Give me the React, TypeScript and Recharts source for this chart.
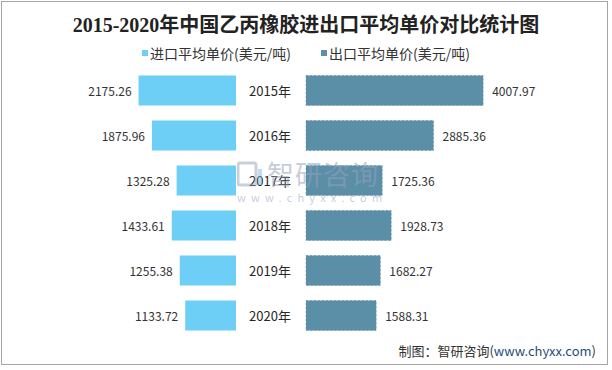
import React from "react";
import { BarChart, Bar, XAxis, YAxis, LabelList } from "recharts";

const years = ["2015年", "2016年", "2017年", "2018年", "2019年", "2020年"];
const importPrice = [2175.26, 1875.96, 1325.28, 1433.61, 1255.38, 1133.72];
const exportPrice = [4007.97, 2885.36, 1725.36, 1928.73, 1682.27, 1588.31];

const data = years.map((year, i) => ({
  year,
  imp: importPrice[i],
  exp: exportPrice[i],
}));

const IMP_COLOR = "#6dcff6";
const EXP_COLOR = "#5b8fa8";
const FONT = '"Microsoft YaHei", "Noto Sans CJK SC", sans-serif';

const LeftLabel = (props: any) => {
  const { x, y, width, height, value } = props;
  const left = Math.min(x, x + width);
  return (
    <text
      x={left - 7}
      y={y + height / 2}
      textAnchor="end"
      dominantBaseline="central"
      fontSize={12}
      fill="#333"
      fontFamily={FONT}
    >
      {value.toFixed(2)}
    </text>
  );
};

const RightLabel = (props: any) => {
  const { x, y, width, height, value } = props;
  const right = Math.max(x, x + width);
  return (
    <text
      x={right + 9}
      y={y + height / 2}
      textAnchor="start"
      dominantBaseline="central"
      fontSize={12}
      fill="#333"
      fontFamily={FONT}
    >
      {value.toFixed(2)}
    </text>
  );
};

const YearTick = (props: any) => {
  const { y, payload } = props;
  return (
    <text
      x={34}
      y={y}
      textAnchor="middle"
      dominantBaseline="central"
      fontSize={13}
      fill="#262626"
      fontFamily={FONT}
    >
      {payload.value}
    </text>
  );
};

const LegendItem = ({ color, text }: { color: string; text: string }) => (
  <span style={{ display: "inline-flex", alignItems: "center", margin: "0 15px" }}>
    <span style={{ width: 6, height: 6, background: color, marginRight: 2 }} />
    <span>{text}</span>
  </span>
);

export default function App() {
  return (
    <div
      style={{
        position: "absolute",
        left: 0,
        top: 0,
        width: 612,
        height: 370,
        background: "#fff",
        fontFamily: FONT,
        overflow: "hidden",
      }}
    >
      <div
        style={{
          position: "absolute",
          left: 1,
          top: 1,
          width: 607,
          height: 364,
          boxSizing: "border-box",
          border: "1px solid #a6a6a6",
        }}
      />
      <div
        style={{
          position: "absolute",
          left: 0,
          top: 12,
          width: 612,
          textAlign: "center",
          fontSize: 20,
          fontWeight: "bold",
          fontFamily: '"Liberation Serif", "Noto Sans CJK SC", serif',
          color: "#222",
          lineHeight: "26px",
        }}
      >
        2015-2020年中国乙丙橡胶进出口平均单价对比统计图
      </div>
      <div
        style={{
          position: "absolute",
          left: 0,
          top: 43,
          width: 612,
          display: "flex",
          justifyContent: "center",
          fontSize: 14,
          color: "#333",
          lineHeight: "20px",
        }}
      >
        <LegendItem color={IMP_COLOR} text="进口平均单价(美元/吨)" />
        <LegendItem color={EXP_COLOR} text="出口平均单价(美元/吨)" />
      </div>

      <div style={{ position: "absolute", left: 0, top: 60 }}>
        <BarChart
          width={236}
          height={285}
          data={data}
          layout="vertical"
          margin={{ top: 7.5, bottom: 7.5, left: 12, right: 0 }}
        >
          <XAxis type="number" domain={[0, 5000]} reversed hide />
          <YAxis type="category" dataKey="year" hide />
          <Bar dataKey="imp" fill={IMP_COLOR} barSize={30} isAnimationActive={false}>
            <LabelList dataKey="imp" content={LeftLabel} />
          </Bar>
        </BarChart>
      </div>

      <div style={{ position: "absolute", left: 236, top: 60 }}>
        <BarChart
          width={376}
          height={285}
          data={data}
          layout="vertical"
          margin={{ top: 7.5, bottom: 7.5, left: 0, right: 85 }}
        >
          <XAxis type="number" domain={[0, 5000]} hide />
          <YAxis
            type="category"
            dataKey="year"
            width={70}
            axisLine={false}
            tickLine={false}
            tick={YearTick}
          />
          <Bar
            dataKey="exp"
            fill={EXP_COLOR}
            stroke="#52849c"
            strokeWidth={0.5}
            strokeDasharray="2 2"
            barSize={30}
            isAnimationActive={false}
          >
            <LabelList dataKey="exp" content={RightLabel} />
          </Bar>
        </BarChart>
      </div>

      <svg
        width={26}
        height={26}
        style={{ position: "absolute", left: 237, top: 161, pointerEvents: "none" }}
      >
        <rect x={1} y={2} width={18} height={22} rx={2} fill="none" stroke="rgba(150,160,185,0.5)" strokeWidth={3} />
        <rect x={21} y={8} width={4} height={16} fill="rgba(120,190,230,0.5)" />
      </svg>
      <div
        style={{
          position: "absolute",
          left: 237,
          top: 158,
          width: 145,
          pointerEvents: "none",
          color: "rgba(150,160,185,0.55)",
        }}
      >
        <div style={{ fontSize: 27, lineHeight: "32px", paddingLeft: 30, letterSpacing: 1 }}>
          智研咨询
        </div>
        <div style={{ fontSize: 11, lineHeight: "14px", letterSpacing: 5.2 }}>
          www.chyxx.com
        </div>
      </div>

      <div
        style={{
          position: "absolute",
          right: 16,
          top: 341,
          fontSize: 13,
          lineHeight: "20px",
          color: "#333",
          whiteSpace: "nowrap",
        }}
      >
        制图：智研咨询(<span style={{ color: "#1f4e79" }}>www.chyxx.com</span>)
      </div>
    </div>
  );
}
